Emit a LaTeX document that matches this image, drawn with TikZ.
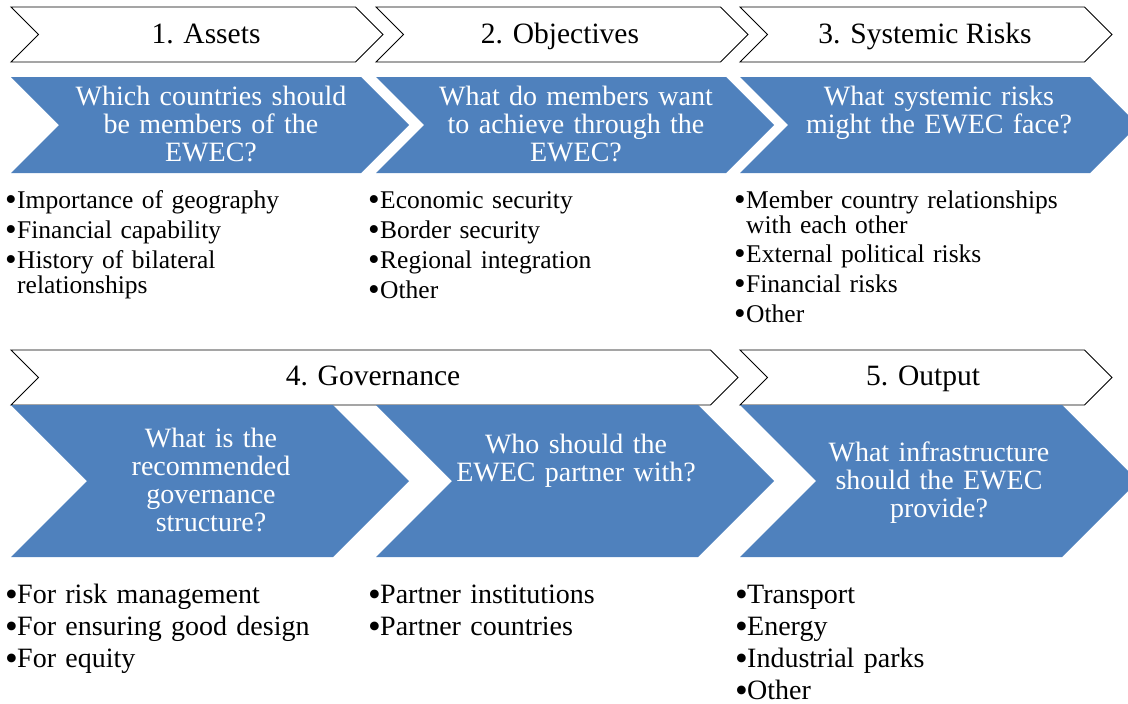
\documentclass[tikz,border=0pt]{standalone}
\usepackage{fontspec}
\setmainfont{Liberation Serif}
\usetikzlibrary{positioning}

\definecolor{chevblue}{HTML}{4F81BD}

% chevron: style, left x, top y, full width, height
\newcommand{\chevron}[5]{%
	\path[#1] (#2,#3) -- ++({#4-#5/2},0) -- ++({#5/2},{#5/2}) -- ++({-#5/2},{#5/2})
		-- ++({-#4+#5/2},0) -- ++({#5/2},{-#5/2}) -- cycle;}
\newcommand{\bul}{\makebox[12pt][l]{\raisebox{-0.11em}{\scalebox{1.3}{\textbullet}}}}
\newcommand{\cont}{\hspace*{12pt}}

\tikzset{
	header/.style={draw=black, fill=white, line width=0.9pt},
	chevfill/.style={fill=chevblue},
	headtext/.style={anchor=base, inner sep=0pt, font=\fontsize{29.5}{30}\selectfont},
	asktext/.style={anchor=base, inner sep=0pt, text=white, align=center,
		text width=330pt, font=\fontsize{28}{28}\selectfont},
	topitems/.style={anchor=base west, inner sep=0pt, align=left,
		text width=380pt, font=\fontsize{25.5}{25}\selectfont},
	lowitems/.style={anchor=base west, inner sep=0pt, align=left,
		text width=380pt, font=\fontsize{28}{32}\selectfont}
}

\begin{document}
\begin{tikzpicture}[x=1pt, y=-1pt]
	\useasboundingbox (0,0) rectangle (1128,704);

	%Header bars
	\chevron{header}{11}{7}{372}{55}
	\chevron{header}{376}{7}{372}{55}
	\chevron{header}{740}{7}{372}{55}
	\chevron{header}{11}{350}{727}{55}
	\chevron{header}{740}{350}{372}{55}

	%Blue chevrons
	\chevron{chevfill}{11}{77}{398}{96}
	\chevron{chevfill}{376}{77}{398}{96}
	\chevron{chevfill}{740}{77}{398}{96}
	\chevron{chevfill}{11}{405}{398}{152}
	\chevron{chevfill}{376}{405}{398}{152}
	\chevron{chevfill}{740}{405}{398}{152}

	%Step titles
	\node[headtext] (assets) at (206,43) {1. Assets};
	\node[headtext] (objectives) at (560,43) {2. Objectives};
	\node[headtext] (risks) at (925,43) {3. Systemic Risks};
	\node[headtext] (governance) at (373,385) {4. Governance};
	\node[headtext] (output) at (923,385) {5. Output};

	%Questions
	\node[asktext] (askMembers) at (211,105) {Which countries should\\be members of the\\EWEC?};
	\node[asktext] (askAchieve) at (576,105) {What do members want\\to achieve through the\\EWEC?};
	\node[asktext] (askRisks) at (939,105) {What systemic risks\\might the EWEC face?};
	\node[asktext] (askStructure) at (211,447) {What is the\\recommended\\governance\\structure?};
	\node[asktext] (askPartner) at (576,453) {Who should the\\EWEC partner with?};
	\node[asktext] (askInfra) at (939,461) {What infrastructure\\should the EWEC\\provide?};

	%Bullet lists
	\node[topitems] (assetsList) at (5,208)
		{\bul Importance of geography\\[5pt]\bul Financial capability\\[5pt]\bul History of bilateral\\\cont relationships};
	\node[topitems] (objectivesList) at (368,208)
		{\bul Economic security\\[5pt]\bul Border security\\[5pt]\bul Regional integration\\[5pt]\bul Other};
	\node[topitems] (risksList) at (734,208)
		{\bul Member country relationships\\\cont with each other\\[4pt]\bul External political risks\\[5pt]\bul Financial risks\\[5pt]\bul Other};
	\node[lowitems] (structureList) at (5,603)
		{\bul For risk management\\\bul For ensuring good design\\\bul For equity};
	\node[lowitems] (partnerList) at (368,603)
		{\bul Partner institutions\\\bul Partner countries};
	\node[lowitems] (infraList) at (735,603)
		{\bul Transport\\\bul Energy\\\bul Industrial parks\\\bul Other};
\end{tikzpicture}
\end{document}
